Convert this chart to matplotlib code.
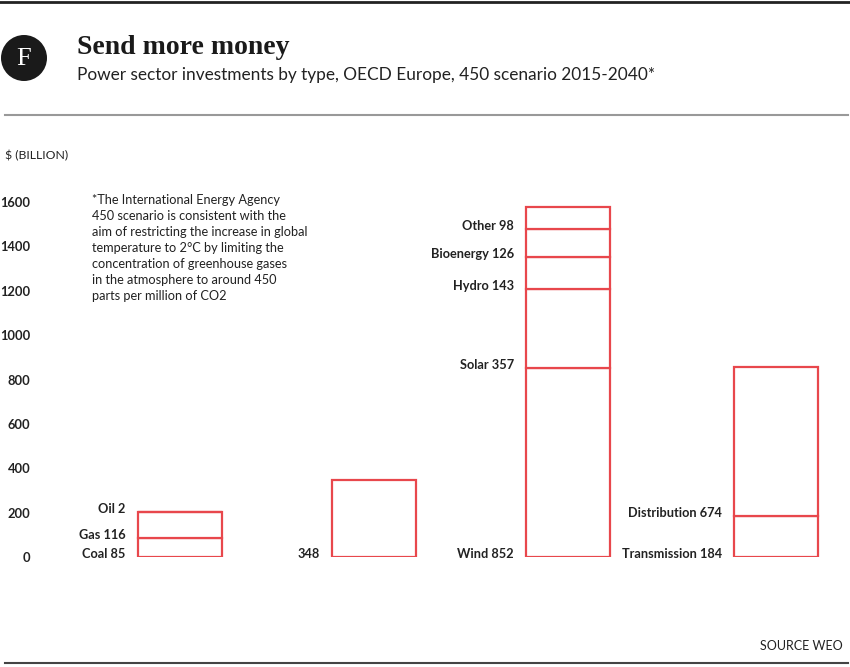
import matplotlib
matplotlib.use("Agg")
import matplotlib.pyplot as plt
from matplotlib.patches import Ellipse
from matplotlib.lines import Line2D

# --- Data ---
groups = ["Fossil", "Nuclear", "Renewables", "Networks"]
segments = [
    [("Coal", 85), ("Gas", 116), ("Oil", 2)],
    [("", 348)],
    [("Wind", 852), ("Solar", 357), ("Hydro", 143), ("Bioenergy", 126), ("Other", 98)],
    [("Transmission", 184), ("Distribution", 674)],
]
yticks = [0, 200, 400, 600, 800, 1000, 1200, 1400, 1600]

# layout: bar centres (the original spaces the last bar a little wider)
xpos = [0, 0.976, 1.953, 3.0]
BAR_W = 0.42

RED = "#e8474c"
TXT = "#222222"
SANS = ["Lato", "DejaVu Sans"]

fig = plt.figure(figsize=(8.5, 6.67), dpi=100)
W, H = 850, 667

def fx(px):
    return px / W

def fy(py):
    return 1 - py / H

# --- Chart ---
ax = fig.add_axes([fx(40), fy(557), fx(800), fy(191) - fy(557)])
for i, segs in enumerate(segments):
    bottom = 0
    for name, val in segs:
        ax.bar(xpos[i], val, bottom=bottom, width=BAR_W, facecolor="white",
               edgecolor=RED, linewidth=1.6)
        label = f"{name} {val}".strip()
        ax.annotate(label, xy=(xpos[i] - BAR_W / 2, bottom), xytext=(-9, -2),
                    textcoords="offset points", ha="right", va="bottom",
                    fontsize=9.2, fontweight="bold", color=TXT, family=SANS)
        bottom += val

ax.set_xlim(-0.705, 3.322)
ax.set_ylim(0, 1650)
ax.set_yticks(yticks)
ax.set_yticklabels([str(t) for t in yticks], fontsize=9.3, fontweight="bold",
                   color=TXT, family=SANS)
ax.set_xticks([])
ax.tick_params(axis="y", length=0, pad=7)
for s in ax.spines.values():
    s.set_visible(False)

# --- Header ---
fig.add_artist(Line2D([0, 1], [fy(1.5), fy(1.5)], color="#222222", lw=2))
fig.add_artist(Line2D([fx(5), fx(848)], [fy(115), fy(115)], color="#999999", lw=1.5))
fig.add_artist(Line2D([fx(5), fx(848)], [fy(663), fy(663)], color="#444444", lw=1.5))

logo = Ellipse((fx(24), fy(58)), width=46 / W, height=46 / H,
               transform=fig.transFigure, facecolor="#1a1a1a", edgecolor="none")
fig.add_artist(logo)
fig.text(fx(24), fy(59), "F", ha="center", va="center", color="white",
         fontsize=19, family="Liberation Serif")

fig.text(fx(77), fy(47), "Send more money", ha="left", va="center",
         fontsize=20, fontweight="bold", family="Liberation Serif", color="#1a1a1a")
fig.text(fx(77), fy(75), "Power sector investments by type, OECD Europe, 450 scenario 2015-2040*",
         ha="left", va="center", fontsize=12.4, family=SANS, color=TXT)

fig.text(fx(5), fy(156), "$ (BILLION)", ha="left", va="center", fontsize=8.8,
         family=SANS, color=TXT)

note = ("*The International Energy Agency\n"
        "450 scenario is consistent with the\n"
        "aim of restricting the increase in global\n"
        "temperature to 2°C by limiting the\n"
        "concentration of greenhouse gases\n"
        "in the atmosphere to around 450\n"
        "parts per million of CO2")
fig.text(fx(92), fy(194), note, ha="left", va="top", fontsize=9.2,
         family=SANS, color=TXT, linespacing=1.4)

fig.text(fx(843), fy(646), "SOURCE WEO", ha="right", va="center", fontsize=9,
         family=SANS, color=TXT)

fig.savefig("out.png", dpi=100, facecolor="white")
